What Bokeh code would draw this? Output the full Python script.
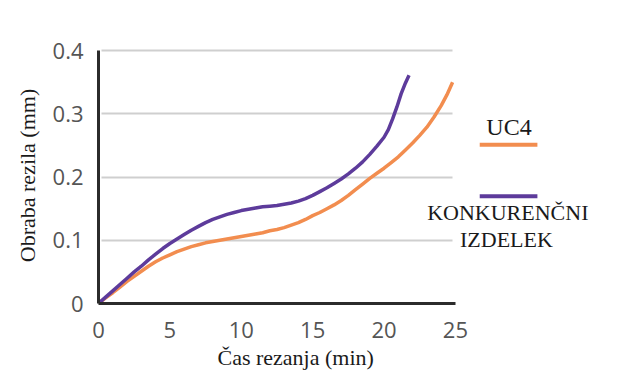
from bokeh.plotting import figure
from bokeh.models import Range1d, FixedTicker, Title
from bokeh.core.properties import value
from bokeh.embed import file_html
from bokeh.resources import INLINE

# ---- data ----
uc4_x = [0, 0.5, 1, 1.5, 2, 2.5, 3, 3.5, 4, 4.5, 5, 5.5, 6, 6.5, 7, 7.5, 8, 8.5, 9, 9.5, 10,
         10.5, 11, 11.5, 12, 12.5, 13, 13.5, 14, 14.5, 15, 15.5, 16, 16.5, 17, 17.5, 18, 18.5,
         19, 19.5, 20, 20.5, 21, 21.5, 22, 22.5, 23, 23.5, 24, 24.4, 24.8]
uc4_y = [0, 0.009, 0.017, 0.026, 0.035, 0.043, 0.051, 0.059, 0.066, 0.072, 0.077, 0.082, 0.086,
         0.090, 0.093, 0.096, 0.098, 0.100, 0.102, 0.104, 0.106, 0.108, 0.110, 0.112, 0.115,
         0.117, 0.120, 0.124, 0.128, 0.133, 0.139, 0.144, 0.150, 0.156, 0.163, 0.171, 0.180,
         0.189, 0.198, 0.206, 0.214, 0.223, 0.232, 0.243, 0.254, 0.266, 0.279, 0.295, 0.313,
         0.330, 0.350]
konk_x = [0, 0.5, 1, 1.5, 2, 2.5, 3, 3.5, 4, 4.5, 5, 5.5, 6, 6.5, 7, 7.5, 8, 8.5, 9, 9.5, 10,
          10.5, 11, 11.5, 12, 12.5, 13, 13.5, 14, 14.5, 15, 15.5, 16, 16.5, 17, 17.5, 18, 18.5,
          19, 19.5, 20, 20.3, 20.6, 20.9, 21.2, 21.5, 21.75]
konk_y = [0, 0.010, 0.020, 0.030, 0.040, 0.050, 0.059, 0.069, 0.078, 0.087, 0.095, 0.102, 0.109,
          0.116, 0.122, 0.128, 0.133, 0.137, 0.141, 0.144, 0.147, 0.149, 0.151, 0.153, 0.154,
          0.155, 0.157, 0.159, 0.162, 0.166, 0.171, 0.177, 0.183, 0.190, 0.197, 0.205, 0.214,
          0.224, 0.236, 0.249, 0.263, 0.275, 0.292, 0.311, 0.332, 0.349, 0.361]
x_ticks = [0, 5, 10, 15, 20, 25]
y_ticks = [0, 0.1, 0.2, 0.3, 0.4]
y_tick_labels = {0: "0", 0.1: "0.1", 0.2: "0.2", 0.3: "0.3", 0.4: "0.4"}
series_names = ["UC4", "KONKURENČNI", "IZDELEK"]
x_title = "Čas rezanja (min)"
y_title = "Obraba rezila (mm)"

ORANGE = "#f28d4f"
PURPLE = "#5d3b9b"
TEXT = "#1a1a1a"
SERIF = "Liberation Serif"

p = figure(width=627, height=380, output_backend="svg", toolbar_location=None,
           x_range=Range1d(0, 36.7), y_range=Range1d(0, 0.405),
           min_border_left=98, min_border_right=5, min_border_top=47, min_border_bottom=77)
p.outline_line_color = None
p.background_fill_color = "white"

p.xgrid.grid_line_color = None
p.ygrid.grid_line_color = "#cfcfcf"
p.ygrid.grid_line_width = 2
p.ygrid.cross_bounds = (0.2, 24.8)
p.ygrid.ticker = FixedTicker(ticks=y_ticks[1:])

for ax in (p.xaxis[0], p.yaxis[0]):
    ax.axis_line_color = "#2b2b2b"
    ax.axis_line_width = 3
    ax.major_tick_line_color = None
    ax.minor_tick_line_color = None
    ax.major_label_text_font = "Open Sans"
    ax.major_label_text_font_size = "22px"
    ax.major_label_text_color = "#555555"

p.xaxis.ticker = FixedTicker(ticks=x_ticks)
p.xaxis.bounds = (0, 25)
p.xaxis.major_label_standoff = 12
p.yaxis.ticker = FixedTicker(ticks=y_ticks)
p.yaxis.bounds = (0, 0.4)
p.yaxis.major_label_overrides = y_tick_labels
p.yaxis.major_label_standoff = 9
p.yaxis.axis_label = y_title
p.yaxis.axis_label_text_font = SERIF
p.yaxis.axis_label_text_font_style = "normal"
p.yaxis.axis_label_text_font_size = "22px"
p.yaxis.axis_label_text_color = TEXT
p.yaxis.axis_label_standoff = 10

p.add_layout(Title(text=x_title, align="left", offset=119, text_font=SERIF,
                   text_font_size="22px", text_font_style="normal", text_color=TEXT,
                   standoff=5), "below")

p.line(uc4_x, uc4_y, line_color=ORANGE, line_width=3.5, line_join="round")
p.line(konk_x, konk_y, line_color=PURPLE, line_width=3.5, line_join="round")

# legend
p.segment(x0=[26.7, 26.7], y0=[0.2512, 0.1696], x1=[30.74, 30.74], y1=[0.2512, 0.1696],
          line_color=[ORANGE, PURPLE], line_width=4)
p.text(x=[28.75], y=[0.279], text=[series_names[0]], text_font=value(SERIF), text_font_size="24px",
       text_align="center", text_baseline="middle", text_color=TEXT)
p.text(x=[28.67, 28.57], y=[0.1436, 0.1018], text=series_names[1:], text_font=value(SERIF),
       text_font_size="22px", text_align="center", text_baseline="middle", text_color=TEXT)

open("out.html", "w").write(file_html(p, INLINE))
